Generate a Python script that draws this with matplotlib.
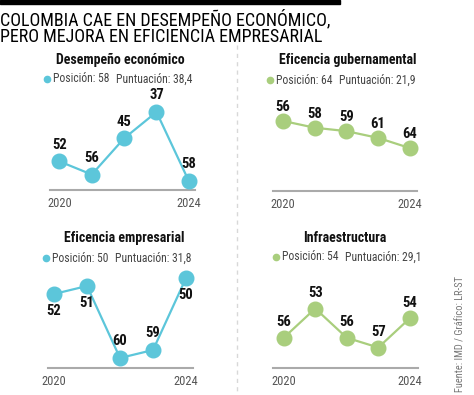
import matplotlib.pyplot as plt
from matplotlib import font_manager
from matplotlib.patches import Rectangle

# pick a narrow font if one is installed
names = {f.name for f in font_manager.fontManager.ttflist}
candidates = ['Roboto Condensed', 'Liberation Sans Narrow', 'Open Sans Condensed', 'Roboto', 'DejaVu Sans']
narrow = next((n for n in candidates if n in names), 'DejaVu Sans')
plt.rcParams['font.family'] = [narrow, 'DejaVu Sans']

# Data (ranking IMD, posicion)
years = [2020, 2021, 2022, 2023, 2024]
desempeno = [52, 56, 45, 37, 58]
gobierno = [56, 58, 59, 61, 64]
empresarial = [52, 51, 60, 59, 50]
infraestructura = [56, 53, 56, 57, 54]

titles = ['Desempeño económico', 'Eficencia gubernamental',
          'Eficencia empresarial', 'Infraestructura']
posiciones = ['58', '64', '50', '54']
puntuaciones = ['38,4', '21,9', '31,8', '29,1']

CYAN = '#5cc6da'
GREEN = '#a9ce7d'

W, H = 474, 395
fig = plt.figure(figsize=(W / 100, H / 100), dpi=100)

# overlay in pixel coordinates for titles, legends and separators
ov = fig.add_axes([0, 0, 1, 1])
ov.set_xlim(0, W)
ov.set_ylim(H, 0)
ov.axis('off')

ov.add_patch(Rectangle((0, 0), 340, 3.5, color='black'))
ov.text(0, 28, 'COLOMBIA CAE EN DESEMPEÑO ECONÓMICO,\nPERO MEJORA EN EFICIENCIA EMPRESARIAL',
        fontsize=13, va='center', linespacing=0.95)
ov.plot([237, 237], [45, 395], color='#d8d8d8', lw=1, ls=(0, (3, 3)))
ov.text(461, 392, 'Fuente: IMD / Gráfico: LR-ST', rotation=90, fontsize=7.5,
        color='#777777', ha='center', va='bottom')


def px_box(l, t, r, b):
    return [l / W, 1 - b / H, (r - l) / W, (b - t) / H]


panels = [
    dict(vals=desempeno, color=CYAN, box=(50, 100, 195, 190), xlim=(2019.71, 2024.19),
         ylim=(60.7, 33.35), dirs=['up'] * 5, off=12,
         title=(120, 60), leg=(47, 79)),
    dict(vals=gobierno, color=GREEN, box=(273, 100, 417, 191), xlim=(2019.68, 2024.23),
         ylim=(76.7, 49.8), dirs=['up'] * 5, off=10,
         title=(348, 60), leg=(270, 80)),
    dict(vals=empresarial, color=CYAN, box=(48, 270, 193, 368), xlim=(2019.82, 2024.21),
         ylim=(61.25, 49.0), dirs=['down', 'down', 'up', 'up', 'down'], off=12,
         title=(124, 238), leg=(46, 258)),
    dict(vals=infraestructura, color=GREEN, box=(273, 290, 418, 368), xlim=(2019.66, 2024.26),
         ylim=(59.1, 51.1), dirs=['up'] * 5, off=11,
         title=(345, 238), leg=(276, 257)),
]

for i, p in enumerate(panels):
    ax = fig.add_axes(px_box(*p['box']))
    ax.plot(years, p['vals'], color=p['color'], lw=1.6, marker='o', ms=10.5,
            clip_on=False, zorder=3)
    for x, v, d in zip(years, p['vals'], p['dirs']):
        dy = p['off'] if d == 'up' else -p['off']
        ax.annotate(str(v), (x, v), xytext=(0, dy), textcoords='offset points',
                    ha='center', va='center', fontsize=10.5, fontweight='bold',
                    color='#111111')
    ax.set_xlim(*p['xlim'])
    ax.set_ylim(*p['ylim'])
    ax.patch.set_visible(False)
    for s in ['top', 'right', 'left']:
        ax.spines[s].set_visible(False)
    ax.spines['bottom'].set_color('#aaaaaa')
    ax.spines['bottom'].set_linewidth(1.5)
    ax.set_yticks([])
    ax.set_xticks([2020, 2024])
    ax.set_xticklabels(['2020', '2024'])
    ax.tick_params(axis='x', length=0, pad=5, labelsize=9, labelcolor='#555555')

    tx, ty = p['title']
    ov.text(tx, ty, titles[i], ha='center', va='center', fontsize=10,
            fontweight='bold', color='#111111')
    lx, ly = p['leg']
    ov.plot(lx, ly, 'o', color=p['color'], ms=4.5)
    ov.text(lx + 6, ly, 'Posición: ' + posiciones[i], ha='left', va='center',
            fontsize=8.4, color='#444444')
    ov.text(lx + 69, ly, 'Puntuación: ' + puntuaciones[i], ha='left', va='center',
            fontsize=8.4, color='#444444')

fig.savefig('out.png', dpi=100)
